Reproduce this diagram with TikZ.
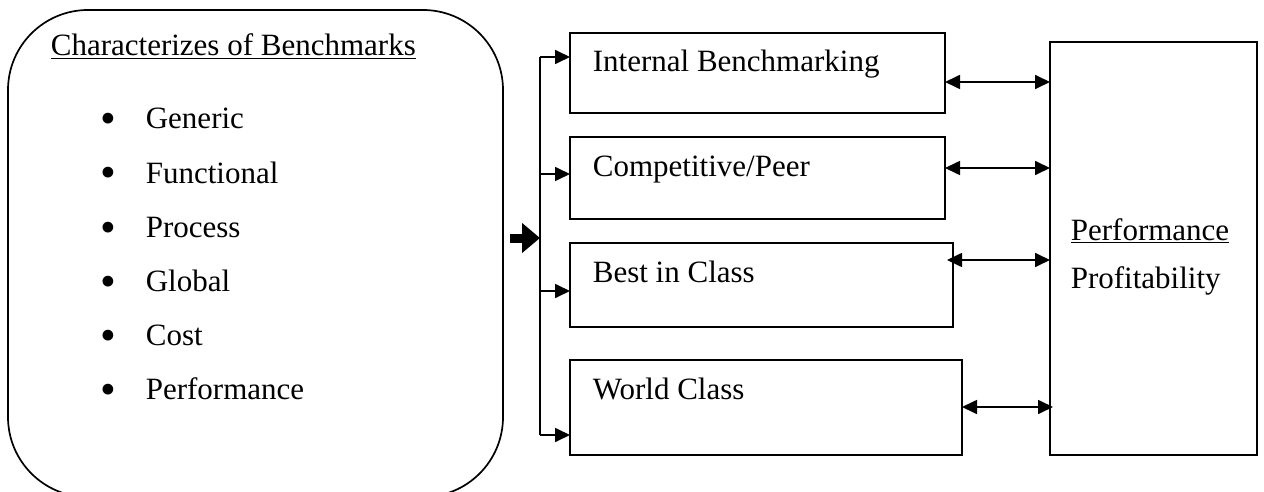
\documentclass[tikz,border=0pt]{standalone}
\usepackage{fontspec}
\setmainfont{Liberation Serif}
\usetikzlibrary{arrows.meta}
\newcommand{\bigbul}{\makebox[45pt][l]{\raisebox{-5pt}{\scalebox{1.45}{•}}}}
\begin{document}
\begin{tikzpicture}[x=1pt,y=-1pt, line width=1.7pt,
  box/.style={draw, rectangle, outer sep=0pt, inner sep=0pt},
  lbl/.style={anchor=base west, inner sep=0pt, font=\fontsize{31}{37}\selectfont},
  tip/.style={-{Triangle[length=15pt,width=14pt]}},
  dbl/.style={{Triangle[length=15pt,width=14pt]}-{Triangle[length=15pt,width=14pt]}},
  bigarrow/.style={line width=9pt, -{Triangle[length=18pt,width=29pt]}}]
\useasboundingbox (0,0) rectangle (1264,492);
\begin{scope}
  \clip (0,0) rectangle (1264,492);
  \node[box, rounded corners=80pt, minimum width=495pt, minimum height=487pt] (L) at (255.5,253.5) {};
\end{scope}
% left texts
\node[lbl] (t0) at (50,56) {\underline{Characterizes of Benchmarks}};
\node[lbl] (t1) at (100,129) {\bigbul Generic};
\node[lbl] (t2) at (100,183) {\bigbul Functional};
\node[lbl] (t3) at (100,237) {\bigbul Process};
\node[lbl] (t4) at (100,291) {\bigbul Global};
\node[lbl] (t5) at (100,345) {\bigbul Cost};
\node[lbl] (t6) at (100,399) {\bigbul Performance};
% middle boxes
\node[box, minimum width=375pt, minimum height=80pt] (B1) at (757.5,73) {};
\node[box, minimum width=375pt, minimum height=82pt] (B2) at (757.5,178) {};
\node[box, minimum width=383pt, minimum height=84pt] (B3) at (761.5,285) {};
\node[box, minimum width=392pt, minimum height=95pt] (B4) at (766,407.5) {};
\node[lbl] (b1t) at ([xshift=22pt,yshift=-39pt]B1.north west) {Internal Benchmarking};
\node[lbl] (b2t) at ([xshift=22pt,yshift=-39pt]B2.north west) {Competitive/Peer};
\node[lbl] (b3t) at ([xshift=22pt,yshift=-39pt]B3.north west) {Best in Class};
\node[lbl] (b4t) at ([xshift=22pt,yshift=-39pt]B4.north west) {World Class};
% right box
\node[box, minimum width=207pt, minimum height=413pt] (R) at (1153.5,248.5) {};
\node[lbl] (r1) at (1070,240) {\underline{Performance}};
\node[lbl] (r2) at (1070,288) {Profitability};
% connectors
\coordinate (J) at (540,238);
\coordinate (J1) at (540,57);
\coordinate (J2) at (540,174);
\coordinate (J3) at (540,291);
\coordinate (J4) at (540,435);
\draw[bigarrow] ([xshift=7pt]L.east |- J) -- (J);
\draw (J1) -- (J4);
\draw[tip] (J1) -- (J1 -| B1.west);
\draw[tip] (J2) -- (J2 -| B2.west);
\draw[tip] (J3) -- (J3 -| B3.west);
\draw[tip] (J4) -- (J4 -| B4.west);
\coordinate (A1) at (1000,82);
\coordinate (A2) at (1000,168);
\coordinate (A3) at (1000,260);
\coordinate (A4) at (1000,407);
\draw[dbl] (B1.east |- A1) -- (R.west |- A1);
\draw[dbl] (B2.east |- A2) -- (R.west |- A2);
\draw[dbl] ([xshift=-6pt]B3.east |- A3) -- (R.west |- A3);
\draw[dbl] (B4.east |- A4) -- ([xshift=3pt]R.west |- A4);
\end{tikzpicture}
\end{document}
